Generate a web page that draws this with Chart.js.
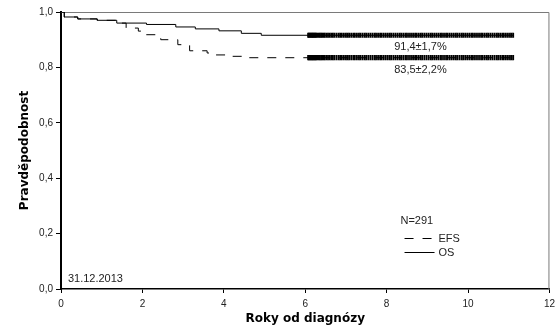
<!DOCTYPE html>
<html>
<head>
<meta charset="utf-8">
<script src="https://cdn.jsdelivr.net/npm/chart.js@4"></script>
<style>
html, body { margin: 0; padding: 0; background: #fff; }
#wrap { width: 560px; height: 328px; }
</style>
</head>
<body>
<div id="wrap"><canvas id="myChart" width="560" height="328"></canvas></div>
<script>
// Kaplan-Meier steps (years, probability)
const osTime = [0, 0.08, 0.41, 0.89, 1.37, 2.1, 2.82, 3.3, 3.88, 4.43, 4.92, 11.13];
const osSurv = [1.0, 0.982, 0.975, 0.970, 0.960, 0.955, 0.946, 0.939, 0.932, 0.923, 0.916, 0.916];
const efsTime = [0, 0.08, 0.41, 0.89, 1.37, 1.6, 1.9, 2.05, 2.45, 2.87, 3.16, 3.59, 3.75, 4.07, 4.5, 11.13];
const efsSurv = [1.0, 0.982, 0.975, 0.970, 0.960, 0.942, 0.931, 0.918, 0.900, 0.882, 0.860, 0.852, 0.845, 0.840, 0.835, 0.835];
// censored observations
const censorTimes = [6.07, 6.09, 6.11, 6.13, 6.15, 6.17, 6.19, 6.21, 6.23, 6.25, 6.27, 6.3, 6.33, 6.36, 6.39, 6.42,
    6.45, 6.48, 6.52, 6.56, 6.6, 6.64, 6.68, 6.72, 6.77, 6.82, 6.86, 6.9, 6.95, 7.0, 7.04, 7.08, 7.13, 7.18, 7.22,
    7.27, 7.32, 7.36, 7.41, 7.46, 7.5, 7.55, 7.6, 7.65, 7.7, 7.74, 7.79, 7.84, 7.88, 7.93, 7.98, 8.03, 8.08, 8.12,
    8.17, 8.22, 8.27, 8.32, 8.36, 8.41, 8.46, 8.5, 8.55, 8.6, 8.65, 8.7, 8.74, 8.79, 8.84, 8.88, 8.93, 8.98, 9.03,
    9.08, 9.12, 9.17, 9.22, 9.27, 9.32, 9.36, 9.41, 9.46, 9.5, 9.55, 9.6, 9.65, 9.7, 9.74, 9.79, 9.84, 9.88, 9.93,
    9.98, 10.03, 10.08, 10.12, 10.17, 10.22, 10.27, 10.32, 10.36, 10.41, 10.46, 10.5, 10.55, 10.6, 10.65, 10.7,
    10.74, 10.79, 10.84, 10.88, 10.93, 10.98, 11.03, 11.07, 11.11];
const xTicks = [0, 2, 4, 6, 8, 10, 12];
const yTicks = [0, 0.2, 0.4, 0.6, 0.8, 1.0];
const osLabel = '91,4±1,7%';
const efsLabel = '83,5±2,2%';
const nLabel = 'N=291';
const dateLabel = '31.12.2013';

function toXY(xs, ys) {
    return xs.map((x, i) => ({ x: x, y: ys[i] }));
}

const FONT = '"Liberation Sans", Arial, sans-serif';

const extras = {
    id: 'extras',
    beforeDatasetsDraw(chart) {
        const { ctx, chartArea: a } = chart;
        ctx.save();
        ctx.strokeStyle = '#7a7a7a';
        ctx.lineWidth = 1;
        ctx.beginPath();
        ctx.moveTo(a.left, a.top + 0.5);
        ctx.lineTo(a.right - 0.5, a.top + 0.5);
        ctx.lineTo(a.right - 0.5, a.bottom);
        ctx.stroke();
        ctx.restore();
    },
    afterDraw(chart) {
        const { ctx } = chart;
        const xs = chart.scales.x, ys = chart.scales.y;
        ctx.save();
        ctx.fillStyle = '#222';
        ctx.font = '11px ' + FONT;
        ctx.textBaseline = 'middle';
        ctx.textAlign = 'center';
        ctx.fillText(osLabel, xs.getPixelForValue(8.83), ys.getPixelForValue(0.874));
        ctx.fillText(efsLabel, xs.getPixelForValue(8.83), ys.getPixelForValue(0.79));
        ctx.textAlign = 'left';
        ctx.fillText(nLabel, xs.getPixelForValue(8.34), ys.getPixelForValue(0.245));
        ctx.fillText(dateLabel, xs.getPixelForValue(0.17), ys.getPixelForValue(0.036));
        // legend
        const lx = xs.getPixelForValue(8.44);
        const ly1 = Math.round(ys.getPixelForValue(0.184)) + 0.5;
        const ly2 = Math.round(ys.getPixelForValue(0.134)) + 0.5;
        ctx.strokeStyle = '#000';
        ctx.lineWidth = 1;
        ctx.setLineDash([9, 9]);
        ctx.beginPath();
        ctx.moveTo(lx, ly1);
        ctx.lineTo(lx + 30, ly1);
        ctx.stroke();
        ctx.setLineDash([]);
        ctx.beginPath();
        ctx.moveTo(lx, ly2);
        ctx.lineTo(lx + 30, ly2);
        ctx.stroke();
        ctx.fillText('EFS', lx + 34, ly1);
        ctx.fillText('OS', lx + 34, ly2);
        ctx.restore();
    }
};

const ctx = document.getElementById('myChart').getContext('2d');
const myChart = new Chart(ctx, {
    type: 'line',
    data: {
        datasets: [
            {
                label: 'OS',
                data: toXY(osTime, osSurv),
                stepped: 'before',
                borderColor: '#000',
                borderWidth: 1,
                pointRadius: 0,
                fill: false
            },
            {
                label: 'EFS',
                data: toXY(efsTime, efsSurv),
                stepped: 'before',
                borderColor: '#000',
                borderWidth: 1,
                borderDash: [9, 9],
                pointRadius: 0,
                fill: false
            },
            {
                type: 'scatter',
                label: 'OS censored',
                data: censorTimes.map(t => ({ x: t, y: osSurv[osSurv.length - 1] })),
                pointStyle: 'line',
                rotation: 90,
                pointRadius: 2.6,
                borderColor: '#000',
                borderWidth: 1.8,
                showLine: false
            },
            {
                type: 'scatter',
                label: 'EFS censored',
                data: censorTimes.map(t => ({ x: t, y: efsSurv[efsSurv.length - 1] })),
                pointStyle: 'line',
                rotation: 90,
                pointRadius: 2.6,
                borderColor: '#000',
                borderWidth: 1.8,
                showLine: false
            }
        ]
    },
    options: {
        responsive: false,
        animation: false,
        layout: { padding: { top: 12, right: 3, left: 0, bottom: 0 } },
        plugins: {
            legend: { display: false },
            tooltip: { enabled: false }
        },
        scales: {
            x: {
                type: 'linear',
                min: 0,
                max: 12,
                afterFit: scale => { scale.height = 39; },
                afterBuildTicks: scale => { scale.ticks = xTicks.map(v => ({ value: v })); },
                grid: { drawOnChartArea: false, tickLength: 4, color: '#000' },
                border: { color: '#000', width: 1.5 },
                ticks: {
                    color: '#222',
                    padding: 5,
                    maxRotation: 0,
                    font: { family: FONT, size: 10 }
                },
                title: {
                    display: true,
                    text: 'Roky od diagnózy',
                    color: '#000',
                    padding: { top: 0, bottom: 2 },
                    font: { family: '"DejaVu Sans"', size: 12, weight: 'bold' }
                }
            },
            y: {
                min: 0,
                max: 1,
                afterFit: scale => { scale.width = 61; },
                afterBuildTicks: scale => { scale.ticks = yTicks.map(v => ({ value: v })); },
                grid: { drawOnChartArea: false, tickLength: 5, color: '#000' },
                border: { color: '#000', width: 2 },
                ticks: {
                    color: '#222',
                    padding: 3,
                    font: { family: FONT, size: 10 },
                    callback: value => value.toFixed(1).replace('.', ',')
                },
                title: {
                    display: true,
                    text: 'Pravděpodobnost',
                    color: '#000',
                    padding: { top: 18, bottom: 0 },
                    font: { family: '"DejaVu Sans"', size: 12, weight: 'bold' }
                }
            }
        }
    },
    plugins: [extras]
});
</script>
</body>
</html>
